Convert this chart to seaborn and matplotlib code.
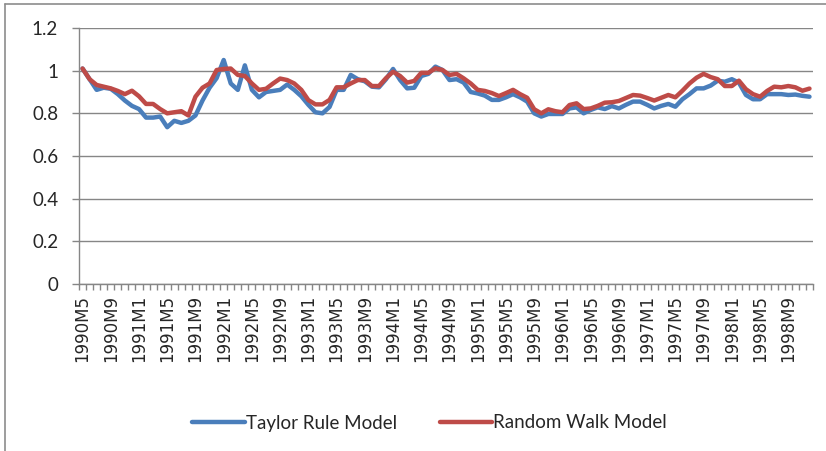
import numpy as np
import pandas as pd
import matplotlib
matplotlib.use("Agg")
import matplotlib.pyplot as plt
from matplotlib.lines import Line2D
import seaborn as sns

# monthly periods 1990M5 .. 1998M12
years = [1990] * 8 + [y for y in range(1991, 1999) for _ in range(12)]
months = list(range(5, 13)) + list(range(1, 13)) * 8
periods = [f"{y}M{m}" for y, m in zip(years, months)]

taylor = [
    1.01, 0.96, 0.91, 0.92, 0.915, 0.89, 0.86, 0.835, 0.82, 0.78,
    0.78, 0.785, 0.735, 0.765, 0.755, 0.765, 0.79, 0.86, 0.92, 0.965,
    1.05, 0.94, 0.91, 1.025, 0.91, 0.875, 0.90, 0.905, 0.91, 0.935,
    0.91, 0.88, 0.84, 0.805, 0.80, 0.83, 0.91, 0.91, 0.98, 0.96,
    0.95, 0.925, 0.922, 0.96, 1.008, 0.956, 0.917, 0.92, 0.975, 0.985,
    1.019, 1.003, 0.956, 0.96, 0.944, 0.90, 0.893, 0.883, 0.863, 0.863,
    0.875, 0.89, 0.875, 0.855, 0.80, 0.785, 0.797, 0.797, 0.797, 0.823,
    0.828, 0.80, 0.816, 0.828, 0.82, 0.834, 0.823, 0.84, 0.855, 0.855,
    0.84, 0.823, 0.835, 0.844, 0.831, 0.866, 0.89, 0.917, 0.917, 0.93,
    0.953, 0.948, 0.96, 0.944, 0.886, 0.866, 0.866, 0.89, 0.89, 0.89,
    0.886, 0.888, 0.882, 0.878,
]
random_walk = [
    1.01, 0.96, 0.933, 0.925, 0.917, 0.905, 0.89, 0.906, 0.88, 0.844,
    0.844, 0.82, 0.80, 0.805, 0.81, 0.79, 0.878, 0.92, 0.94, 1.003,
    1.008, 1.01, 0.98, 0.975, 0.94, 0.91, 0.915, 0.94, 0.963, 0.956,
    0.94, 0.91, 0.862, 0.842, 0.842, 0.863, 0.922, 0.922, 0.94, 0.956,
    0.956, 0.928, 0.928, 0.965, 0.995, 0.975, 0.944, 0.952, 0.99, 0.99,
    1.011, 1.003, 0.98, 0.985, 0.964, 0.94, 0.91, 0.905, 0.895, 0.881,
    0.895, 0.91, 0.89, 0.873, 0.819, 0.80, 0.819, 0.81, 0.805, 0.839,
    0.847, 0.82, 0.823, 0.835, 0.85, 0.852, 0.858, 0.872, 0.886, 0.883,
    0.872, 0.86, 0.873, 0.886, 0.875, 0.906, 0.94, 0.967, 0.985, 0.97,
    0.96, 0.928, 0.928, 0.953, 0.913, 0.89, 0.878, 0.905, 0.925, 0.922,
    0.928, 0.922, 0.906, 0.916,
]
series_names = ["Taylor Rule Model", "Random Walk Model"]
y_ticks = [0, 0.2, 0.4, 0.6, 0.8, 1.0, 1.2]
y_tick_labels = ["0", "0.2", "0.4", "0.6", "0.8", "1", "1.2"]

n = len(periods)
df = pd.DataFrame({
    "idx": list(range(n)) * 2,
    "value": taylor + random_walk,
    "model": [series_names[0]] * n + [series_names[1]] * n,
})

sns.set_theme(style="white")
plt.rcParams["font.family"] = ["Lato", "DejaVu Sans"]

grid_col = "#868686"
colors = ["#4A7EBB", "#BE4B48"]
fig = plt.figure(figsize=(8.26, 4.51), dpi=100)
ax = fig.add_axes([79 / 826, 1 - 284 / 451, (813 - 79) / 826, (284 - 28) / 451])

sns.lineplot(data=df, x="idx", y="value", hue="model",
             palette=colors, linewidth=3.2, ax=ax, legend=False)

ax.set_xlim(-0.5, n - 0.5)
ax.set_ylim(0, 1.2)
ax.set_yticks(y_ticks)
ax.set_yticklabels(y_tick_labels, fontsize=13.5)
ax.yaxis.grid(True, color=grid_col, linewidth=1)
ax.set_axisbelow(True)

label_pos = list(range(0, n, 4))
ax.set_xticks(label_pos)
ax.set_xticklabels([periods[i] for i in label_pos], rotation=90,
                   fontsize=12, family="DejaVu Sans")
ax.set_xticks(np.arange(-0.5, n, 1), minor=True)
ax.tick_params(axis="x", which="major", length=0, pad=8)
ax.tick_params(axis="x", which="minor", length=4, color=grid_col, width=1,
               direction="out", bottom=True)
ax.tick_params(axis="y", length=5, color=grid_col, width=1, direction="out",
               left=True, pad=10)

for s in ["top", "right"]:
    ax.spines[s].set_visible(False)
for s in ["left", "bottom"]:
    ax.spines[s].set_color(grid_col)
    ax.spines[s].set_linewidth(1)
ax.set_xlabel("")
ax.set_ylabel("")

handles = [Line2D([], [], color=c, linewidth=3.2) for c in colors]
fig.legend(handles, series_names, loc="center", bbox_to_anchor=(0.52, 1 - 423 / 451),
           ncol=2, frameon=False, fontsize=13.5, handlelength=2.8,
           handletextpad=0.05, columnspacing=2.3)

# chart border (cropped on right and bottom)
fig.add_artist(Line2D([5 / 826, 1], [1 - 4 / 451, 1 - 4 / 451],
                      color="#8c8c8c", linewidth=1.2, transform=fig.transFigure))
fig.add_artist(Line2D([5 / 826, 5 / 826], [0, 1 - 4 / 451],
                      color="#8c8c8c", linewidth=1.2, transform=fig.transFigure))

fig.savefig("out.png", dpi=100)
